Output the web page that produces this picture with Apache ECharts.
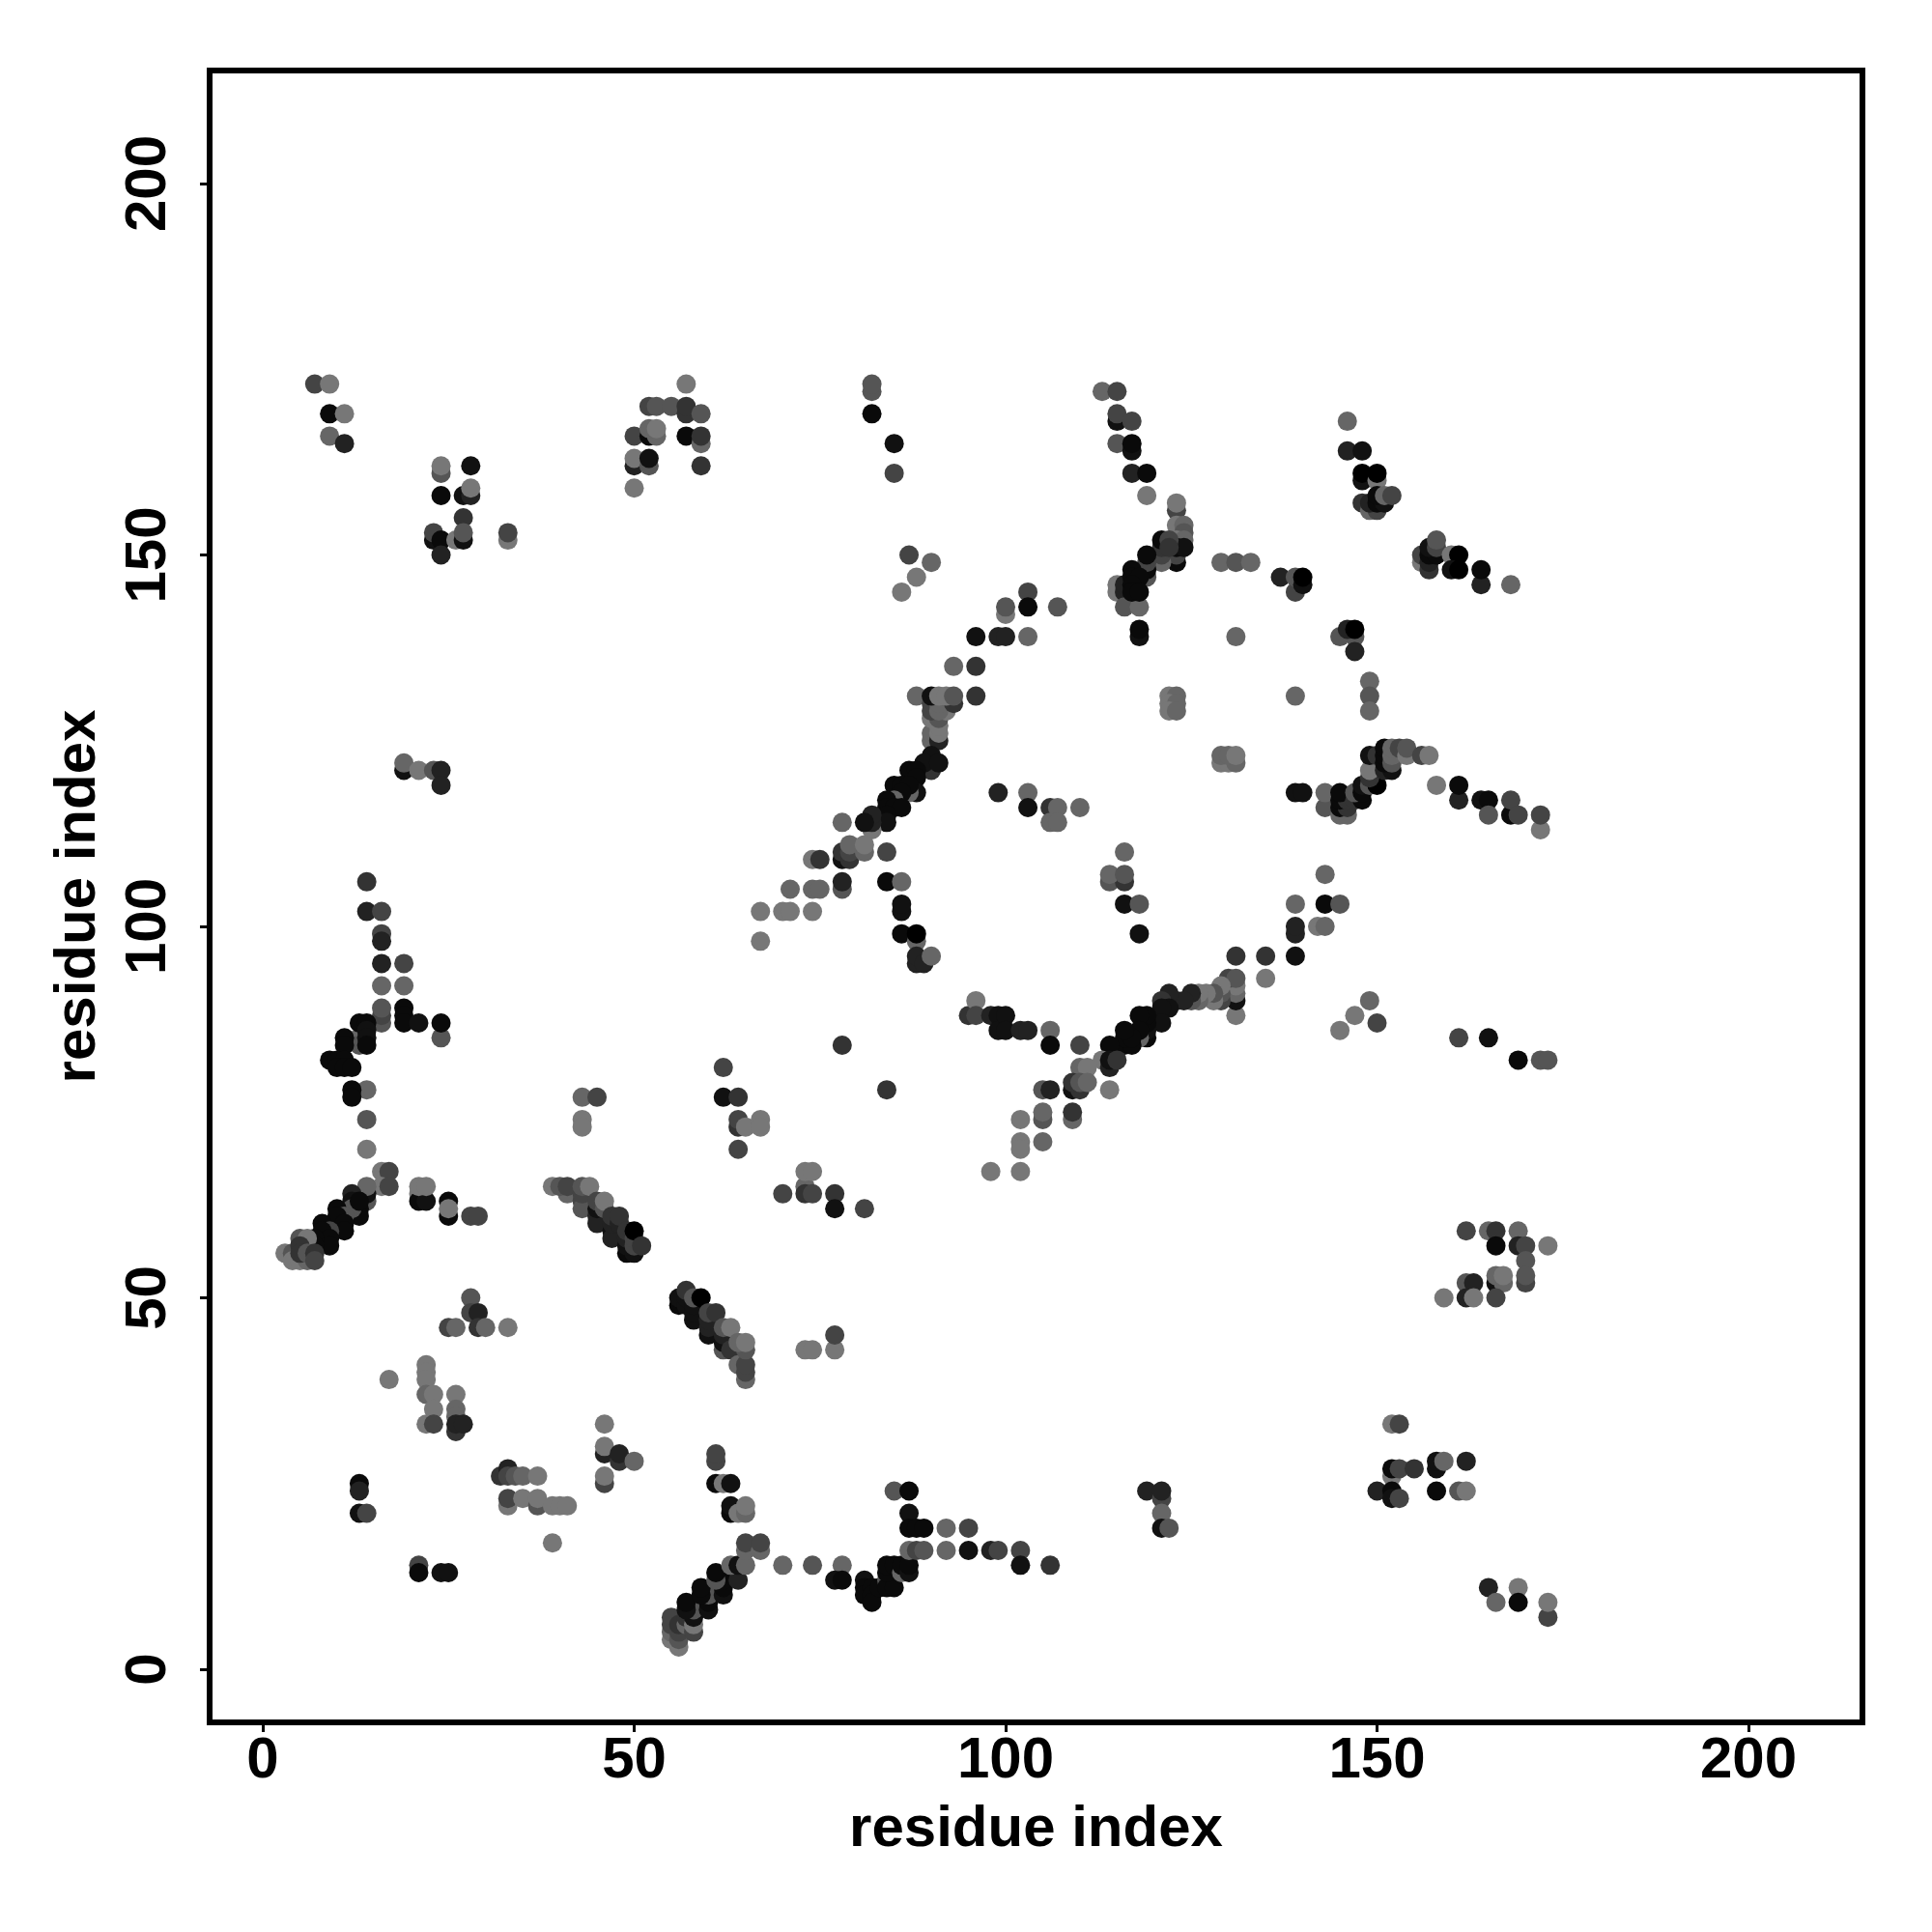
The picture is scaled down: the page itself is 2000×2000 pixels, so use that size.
<!DOCTYPE html>
<html><head><meta charset="utf-8">
<style>html,body{margin:0;padding:0;background:#fff}#c{width:2000px;height:2000px}</style>
<script src="https://cdn.jsdelivr.net/npm/echarts@6/dist/echarts.min.js"></script></head>
<body><div id="c"></div>
<script>
const tickValues = [0, 50, 100, 150, 200];
// each contact: [residue x, residue y, grey level]
const upperLeftArm = [[14,106,51],[14,102,34],[16,102,68],[16,99,68],[16,98,34],[16,95,34],[19,95,68],[16,92,102],[19,92,102],[16,87,85],[16,88,68],[16,89,85],[19,89,10],[19,88,10],[19,87,10],[21,87,17],[24,85,85],[24,87,10],[13,85,102],[13,84,85],[13,87,10],[14,87,10],[14,86,17],[14,85,17],[14,84,10],[11,85,10],[11,84,10],[9,82,10],[10,82,10],[11,82,10],[10,81,10],[11,81,10],[12,81,10],[14,78,102],[12,78,10],[12,77,10],[14,74,85],[14,70,119]];
const helixA = [[16,67,119],[17,67,68],[16,65,119],[17,65,68],[14,63,85],[14,64,17],[14,65,102],[12,64,34],[12,63,17],[13,62,10],[13,61,10],[12,62,85],[13,63,10],[10,62,10],[11,61,85],[10,61,10],[11,60,10],[11,59,10],[8,60,10],[9,59,68],[8,59,10],[9,58,10],[9,57,10],[7,58,10],[7,57,10],[3,56,119],[4,56,85],[4,55,119],[5,55,119],[6,55,102],[5,58,85],[6,58,119],[5,57,51],[5,56,51],[6,56,85],[7,56,51],[7,55,68]];
const nearHelixA = [[21,64,119],[21,63,10],[22,63,17],[21,65,119],[22,65,119],[25,63,10],[25,61,10],[25,62,119],[28,61,68],[29,61,68],[28,50,85],[28,48,68],[29,48,34],[29,46,51],[25,46,68],[26,46,102],[30,46,102],[33,46,119],[17,39,119],[22,41,119],[22,40,119],[22,39,119],[22,37,102],[23,37,119],[23,35,119],[22,33,119],[23,33,68],[26,37,119],[26,35,102],[26,34,102],[26,32,51],[26,33,34],[27,33,34]];
const lowerLeft = [[13,25,10],[13,24,34],[13,21,17],[14,21,68],[21,14,68],[21,13,10],[24,13,17],[25,13,17],[32,26,51],[33,27,34],[33,26,68],[34,26,85],[35,26,102],[37,26,119],[33,22,119],[33,23,68],[35,23,119],[37,22,85],[37,23,119],[39,22,119],[40,22,119],[41,22,119],[39,17,119],[46,33,119],[46,29,34],[46,30,119],[48,28,51],[48,29,34],[50,28,102],[46,25,68],[46,26,119]];
const helixB = [[41,64,102],[39,65,119],[40,65,85],[41,65,68],[43,63,68],[43,62,85],[43,64,68],[43,65,85],[44,65,119],[45,61,34],[45,60,34],[45,62,17],[45,63,68],[46,62,85],[46,63,119],[47,59,17],[47,58,34],[47,60,34],[47,61,51],[48,60,34],[48,61,51],[49,56,10],[50,56,17],[49,57,17],[49,58,34],[49,59,51],[50,57,68],[50,58,68],[50,59,0],[51,57,51]];
const helixC = [[56,49,10],[56,50,17],[57,49,17],[57,50,17],[57,51,51],[58,47,17],[58,48,17],[58,49,17],[58,50,85],[59,50,0],[60,45,17],[60,46,34],[60,47,34],[60,48,68],[61,48,51],[62,43,85],[62,44,17],[62,45,34],[62,46,85],[63,43,51],[63,46,119],[65,39,102],[64,41,102],[65,40,68],[65,41,68],[65,43,85],[64,44,102],[65,44,119]];
const midLeft = [[70,64,68],[73,65,102],[73,64,51],[74,64,68],[73,67,119],[74,67,119],[77,64,51],[77,62,17],[81,62,68],[73,43,119],[74,43,119],[77,43,119],[77,45,68],[43,77,102],[45,77,68],[43,74,119],[43,73,119],[62,81,68],[62,77,17],[64,77,51],[64,73,51],[64,74,68],[65,73,119],[67,74,119],[67,73,119],[64,70,68],[78,84,51],[84,78,51]];
const helixD = [[55,4,119],[55,5,102],[55,6,68],[55,7,68],[56,3,119],[56,4,85],[56,5,68],[56,6,51],[57,6,102],[57,7,51],[58,5,68],[58,6,119],[58,7,17],[58,8,85],[57,8,17],[57,9,10],[60,8,17],[60,9,10],[60,10,85],[59,10,10],[59,11,10],[62,10,17],[62,11,10],[62,12,10],[61,12,85],[61,13,10],[64,12,34],[63,14,102],[64,14,17],[65,14,102],[65,16,102],[65,17,68],[67,16,102],[67,17,68]];
const bottomMid = [[61,28,68],[61,29,68],[61,25,10],[62,25,119],[63,25,17],[63,21,10],[63,22,17],[64,21,119],[65,21,102],[65,22,119],[70,14,102],[74,14,85],[78,14,102],[77,12,17],[78,12,10],[81,12,17],[81,11,10],[81,10,10],[82,11,10],[82,10,10],[82,9,10],[83,11,10],[84,12,85],[84,11,10],[85,11,10],[84,13,10],[84,14,10],[85,14,10],[86,13,102],[86,14,10],[87,13,17],[87,14,10],[85,24,85],[87,24,10],[87,21,17],[87,19,10],[88,19,10],[89,19,10],[87,16,102],[88,16,68],[89,16,85],[92,19,102],[92,16,102],[95,19,68],[95,16,17],[98,16,34],[99,16,68],[102,16,68],[102,14,17],[106,14,51]];
const bottomRight = [[119,24,34],[121,23,68],[121,24,34],[121,21,102],[121,19,17],[122,19,85],[152,33,119],[153,33,68],[152,26,119],[152,27,10],[153,27,68],[155,27,51],[150,24,34],[152,24,10],[152,23,17],[153,23,68],[158,27,17],[158,28,17],[159,28,102],[162,28,34],[158,24,10],[161,24,85],[162,24,119],[165,11,34],[169,11,119],[166,9,102],[169,9,10],[173,7,68],[173,9,119]];
const rightMid = [[162,59,68],[165,59,102],[166,59,51],[169,59,102],[166,57,10],[169,57,34],[170,57,68],[173,57,119],[170,55,85],[170,52,68],[170,53,85],[166,52,17],[167,52,102],[166,53,102],[167,53,119],[162,52,85],[163,52,34],[159,50,119],[162,50,34],[163,50,119],[166,50,68],[145,86,119],[147,88,119],[149,90,102],[150,87,68],[161,85,68],[165,85,17],[169,82,10],[172,82,85],[173,82,85]];
const diagonalE = [[131,96,51],[135,96,51],[139,96,17],[135,93,119],[131,88,119],[131,90,17],[131,91,102],[131,92,119],[130,93,68],[131,93,85],[129,90,68],[129,91,85],[129,92,119],[128,90,119],[128,91,85],[127,91,119],[126,90,102],[126,91,119],[125,90,85],[125,91,34],[123,90,34],[124,90,34],[122,91,34],[121,90,51],[122,89,17],[121,89,17],[121,87,17],[119,85,10],[119,86,17],[119,87,10],[119,88,10],[118,88,10],[118,85,102],[118,86,10],[116,84,10],[117,84,10],[116,85,10],[117,85,10],[116,86,10],[114,84,10],[113,82,119],[114,81,34],[114,82,17],[115,82,51],[114,78,119]];
const leftOfE = [[95,88,51],[96,90,119],[96,88,68],[98,88,34],[99,88,17],[99,86,17],[100,88,17],[100,86,17],[102,86,34],[103,86,34],[106,86,102],[106,84,10],[110,84,68],[110,81,102],[111,81,119],[109,78,17],[110,78,51],[109,79,51],[110,79,85],[111,79,102],[105,78,85],[106,78,34],[102,74,119],[105,74,85],[105,75,102],[109,74,102],[109,75,51],[102,71,119],[102,70,119],[105,71,102],[98,67,119],[102,67,119]];
const helixF = [[93,135,102],[96,135,51],[88,131,102],[96,131,51],[90,125,102],[90,126,102],[91,125,34],[91,126,119],[91,127,119],[90,128,119],[91,128,85],[90,129,68],[90,130,68],[92,129,119],[91,129,102],[91,130,102],[90,131,17],[93,130,51],[91,131,119],[92,131,119],[93,131,85],[90,121,51],[90,123,17],[89,122,17],[91,122,17],[87,121,10],[88,121,10],[88,120,10],[88,118,17],[87,118,102],[85,119,10],[86,119,10],[87,119,10],[86,118,10],[85,117,102],[84,117,10],[84,116,10],[85,116,10],[86,116,10],[84,115,10],[84,114,17],[82,113,119],[82,114,34],[82,115,34],[81,114,17],[78,114,102],[78,109,17],[79,109,51],[78,110,51],[79,110,68],[81,110,102],[79,111,102],[81,111,119],[84,110,68],[78,105,85],[78,106,34]];
const belowF = [[84,106,10],[86,106,102],[86,102,17],[86,103,17],[86,99,10],[88,98,102],[88,99,0],[88,95,34],[88,96,34],[89,95,34],[90,96,102],[99,118,34],[103,118,102],[103,116,17],[106,116,51],[107,116,102],[106,114,102],[107,114,102],[110,116,102],[116,110,102],[114,106,85],[116,106,51],[114,107,102],[116,107,85],[116,103,17],[118,103,85],[118,99,17]];
const upperMidLeft = [[67,102,119],[67,98,119],[70,102,119],[71,102,119],[74,102,119],[71,105,102],[74,105,102],[75,105,102],[74,109,119],[75,109,51],[19,121,17],[19,122,102],[21,121,119],[23,121,85],[24,121,34],[24,119,34],[7,173,68],[9,173,119],[9,169,10],[11,169,119],[9,166,102],[11,165,34]];
const topLeft = [[24,161,85],[24,162,119],[28,162,17],[24,158,10],[27,158,17],[28,158,34],[28,159,119],[27,155,51],[23,152,17],[23,153,68],[24,152,10],[24,150,34],[26,152,119],[27,152,17],[27,153,85],[33,152,119],[33,153,68],[50,166,68],[50,162,34],[50,163,119],[50,159,119],[52,170,68],[53,170,85],[55,170,85],[57,173,119],[57,169,51],[57,170,51],[57,166,10],[59,169,85],[59,165,102],[59,166,51],[59,162,51],[52,166,10],[53,166,102],[52,167,102],[53,167,119],[52,162,85],[52,163,17],[82,172,85],[82,173,85],[82,169,10],[85,165,17],[85,161,68],[87,150,68],[90,149,102],[88,147,119],[86,145,119]];
const aboveMid = [[96,139,17],[99,139,34],[100,139,34],[103,139,102],[100,142,119],[100,143,85],[103,145,68],[103,143,10],[107,143,85],[113,172,102],[115,172,68],[115,168,17],[115,169,68],[117,168,68],[115,165,85],[117,164,17],[117,165,10],[117,161,34],[119,161,10],[119,158,119]];
const helixG = [[123,156,68],[123,157,119],[123,154,119],[124,154,102],[124,153,85],[123,152,119],[124,152,102],[123,149,10],[123,150,68],[123,151,10],[124,151,17],[121,149,102],[121,150,68],[121,151,51],[121,152,10],[122,152,68],[122,151,51],[119,147,85],[119,148,10],[119,149,68],[119,150,10],[115,145,119],[115,146,119],[116,145,34],[116,146,34],[116,143,85],[118,143,102],[117,148,10],[117,147,10],[118,147,10],[117,146,10],[117,145,10],[118,145,10],[118,139,17],[118,140,10]];
const upperRight = [[129,149,102],[131,149,85],[133,149,102],[131,139,102],[137,147,34],[139,145,68],[139,147,85],[140,146,17],[140,147,0],[145,139,85],[147,139,85],[146,140,34],[147,140,0],[147,137,34],[139,131,102],[149,133,102],[149,131,85],[149,129,102],[122,131,119],[123,131,102],[122,130,119],[123,130,102],[122,129,119],[123,129,102],[129,122,119],[130,122,119],[131,122,102],[129,123,102],[130,123,102],[131,123,119]];
const helixH = [[139,118,17],[140,118,17],[143,116,85],[143,118,102],[145,115,102],[146,115,102],[145,116,10],[146,116,51],[145,117,10],[146,117,51],[145,118,10],[147,117,51],[148,117,10],[147,118,85],[148,118,10],[148,119,17],[149,119,85],[150,119,0],[149,120,51],[149,121,119],[149,123,17],[150,123,51],[151,121,34],[152,121,17],[151,122,10],[151,123,10],[151,124,10],[152,122,85],[152,123,102],[152,124,102],[153,124,68],[154,123,119],[154,124,85],[156,123,68],[157,123,119],[158,119,119],[161,117,34],[161,119,10],[164,117,17],[165,117,10],[165,115,85],[168,115,10],[168,117,68],[169,115,68],[172,113,119],[172,115,68]];
const lowerRightOfH = [[143,107,102],[139,103,102],[143,103,10],[145,103,85],[139,99,34],[139,100,34],[142,100,119],[143,100,102]];
const topRight = [[146,168,102],[146,164,34],[148,164,17],[148,160,17],[148,161,0],[150,160,119],[150,161,0],[148,157,51],[149,156,102],[150,156,68],[149,157,34],[150,157,10],[151,157,17],[150,158,10],[151,158,102],[152,158,68],[156,149,119],[156,150,68],[157,148,51],[157,149,34],[157,150,10],[158,150,10],[157,151,17],[158,151,68],[158,152,85],[160,150,119],[161,150,0],[160,148,17],[161,148,0],[164,146,34],[164,148,10],[168,146,102]];

const contacts = [].concat(upperLeftArm, helixA, nearHelixA, lowerLeft, helixB, helixC, midLeft, helixD, bottomMid, bottomRight, rightMid, diagonalE, leftOfE, helixF, belowF, upperMidLeft, topLeft, aboveMid, helixG, upperRight, helixH, lowerRightOfH, topRight);

const font = '"Liberation Sans", Arial, sans-serif';
const axisCommon = {
  type: 'value', nameLocation: 'middle',
  name: 'residue index',
  nameTextStyle: {fontFamily: font, fontWeight: 'bold', fontSize: 60, color: '#000'},
  axisLine: {show: false, onZero: false},
  splitLine: {show: false},
  axisTick: {show: true, length: 10, inside: false, customValues: tickValues, lineStyle: {color: '#000', width: 3}},
  axisLabel: {show: true, customValues: tickValues, fontFamily: font, fontWeight: 'bold', fontSize: 60, color: '#000'}
};
const chart = echarts.init(document.getElementById('c'), null, {renderer: 'canvas', width: 2000, height: 2000});
chart.setOption({
  animation: false, backgroundColor: '#fff',
  grid: {show: true, left: 217, right: 72, top: 73, bottom: 217, borderColor: '#000', borderWidth: 6, backgroundColor: '#fff'},
  xAxis: Object.assign({}, axisCommon, {min: -7.15, max: 215.34, nameGap: 81,
    axisLabel: Object.assign({}, axisCommon.axisLabel, {margin: 10})}),
  yAxis: Object.assign({}, axisCommon, {min: -7.15, max: 215.21, nameGap: 106,
    axisLabel: Object.assign({}, axisCommon.axisLabel, {rotate: 90, margin: 33, align: 'center', verticalAlign: 'bottom'})}),
  series: [{type: 'scatter', symbol: 'circle', symbolSize: 20, data: contacts,
    itemStyle: {opacity: 1, color: p => { const g = p.value[2]; return 'rgb(' + g + ',' + g + ',' + g + ')'; }}}]
});
</script></body></html>
